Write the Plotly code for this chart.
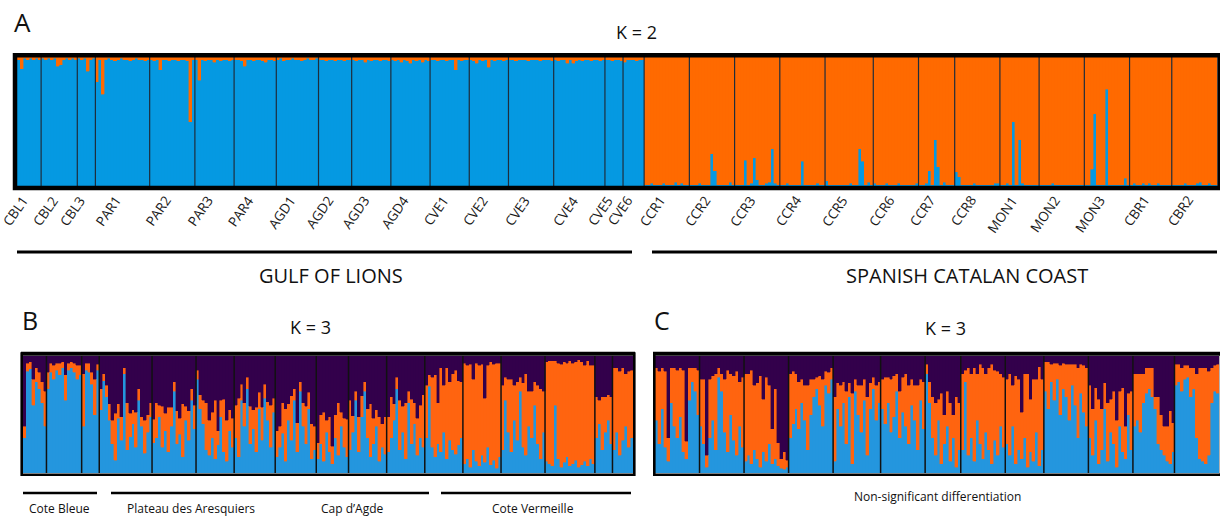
import plotly.graph_objects as go

# ---------------- data ----------------
gulf_pops = ["CBL1", "CBL2", "CBL3", "PAR1", "PAR2", "PAR3", "PAR4", "AGD1", "AGD2",
             "AGD3", "AGD4", "CVE1", "CVE2", "CVE3", "CVE4", "CVE5", "CVE6"]
spain_pops = ["CCR1", "CCR2", "CCR3", "CCR4", "CCR5", "CCR6", "CCR7", "CCR8",
              "MON1", "MON2", "MON3", "CBR1", "CBR2"]

# Panel A (K=2): membership (%) in the blue cluster, per individual, per population
A_gulf_blue = [
    [98, 91, 99, 98, 99, 98, 99, 98],
    [99, 98, 99, 98, 99, 93, 94, 98, 99, 98, 99, 98],
    [99, 98, 99, 89, 98, 99],
    [81, 98, 71, 98, 99, 98, 97, 98, 99, 98, 98, 97, 98, 99, 98, 98, 97, 98],
    [98, 97, 98, 90, 98, 98, 97, 98, 98, 97, 98, 98, 97, 50, 98],
    [98, 82, 98, 97, 98, 98, 96, 98, 97, 98, 98, 97, 98],
    [98, 98, 97, 93, 98, 98, 97, 98, 98, 97, 96, 98, 98, 97],
    [98, 99, 97, 98, 98, 99, 98, 98, 97, 98, 99, 98, 98, 99],
    [98, 98, 97, 98, 98, 97, 98, 98, 97, 98, 98],
    [98, 97, 98, 98, 96, 98, 97, 98, 98, 97, 98, 98, 97],
    [98, 97, 98, 96, 98, 97, 95, 98, 97, 98, 96, 98, 97],
    [98, 98, 97, 98, 98, 97, 98, 98, 90, 98, 97, 98, 98],
    [98, 97, 95, 98, 97, 98, 92, 98, 97, 98, 98, 97, 98],
    [98, 98, 97, 98, 98, 98, 97, 98, 98, 98, 97, 98, 98, 98, 97],
    [98, 97, 98, 98, 95, 98, 95, 97, 98, 97, 98, 98, 97, 98, 98, 97, 98],
    [98, 98, 97, 98, 98, 97],
    [96, 98, 98, 98, 97, 98, 98],
]
A_spain_blue = [
    [1, 1, 2, 1, 1, 1, 2, 1, 1, 1, 3, 1, 2, 1, 1],
    [1, 1, 1, 2, 1, 1, 1, 25, 12, 1, 1, 1, 1, 3, 1],
    [1, 1, 1, 20, 1, 2, 22, 5, 1, 1, 2, 3, 29, 2, 1],
    [1, 1, 2, 1, 1, 1, 1, 19, 1, 1, 1, 1, 2, 1, 1],
    [4, 1, 1, 1, 1, 1, 1, 1, 2, 1, 1, 29, 19, 1, 3, 1],
    [2, 1, 1, 1, 2, 1, 1, 1, 2, 1, 1, 1, 1, 1, 2],
    [1, 1, 2, 12, 1, 36, 15, 1, 3, 1, 1, 1],
    [11, 7, 1, 1, 1, 1, 2, 1, 1, 1, 1, 1, 1, 2, 2],
    [1, 1, 2, 1, 50, 1, 36, 2, 1, 1, 1, 1, 1],
    [1, 1, 1, 1, 2, 1, 1, 1, 1, 1, 1, 1, 1, 1, 1],
    [1, 1, 13, 56, 1, 1, 1, 75, 1, 1, 1, 1, 1, 6, 1],
    [1, 2, 1, 1, 2, 1, 2, 1, 1, 2, 1, 1, 1, 1],
    [1, 1, 1, 1, 2, 1, 1, 1, 2, 3, 1, 1, 2, 1, 1],
]

# Panel B (K=3, Gulf of Lions): blue and orange membership (%); purple = remainder
B_blue = [
    [30, 87, 89, 58, 78, 72, 60, 40],
    [72, 86, 80, 88, 84, 90, 62, 88, 90, 86, 80, 84],
    [40, 88, 86, 76, 50, 88],
    [54, 79, 65, 45, 25, 11, 47, 28, 85, 20, 31, 42, 22, 62, 40, 17, 35, 48],
    [26, 30, 48, 22, 36, 18, 40, 70, 25, 33, 14, 45, 28, 62, 38],
    [80, 55, 42, 20, 15, 30, 12, 24, 48, 18, 10, 36, 22],
    [30, 14, 62, 40, 72, 25, 38, 18, 55, 28, 64, 45, 22, 52],
    [14, 22, 34, 10, 45, 28, 62, 18, 70, 40, 25, 55, 12, 20],
    [12, 25, 10, 35, 18, 8, 30, 15, 40, 22, 14],
    [20, 35, 62, 18, 48, 70, 30, 14, 25, 40, 10, 22, 16],
    [18, 30, 45, 72, 20, 35, 12, 60, 25, 42, 15, 30, 22],
    [30, 74, 22, 14, 25, 18, 35, 12, 28, 20, 16, 24, 30],
    [8, 12, 5, 20, 10, 6, 15, 9, 22, 7, 11, 4, 14],
    [20, 62, 35, 18, 45, 28, 70, 22, 15, 40, 30, 58, 25, 12, 35],
    [10, 8, 6, 58, 12, 5, 9, 14, 6, 8, 11, 5, 7, 10, 6, 12, 8],
    [30, 42, 20, 35, 45, 25],
    [20, 35, 15, 28, 40, 22, 30],
]
B_orange = [
    [10, 7, 6, 22, 12, 14, 18, 30],
    [14, 8, 12, 6, 10, 5, 22, 6, 5, 8, 12, 8],
    [45, 6, 8, 10, 30, 5],
    [18, 6, 10, 14, 20, 40, 12, 20, 5, 40, 20, 12, 30, 10, 8, 28, 15, 12],
    [20, 30, 10, 35, 15, 38, 16, 8, 28, 14, 45, 12, 25, 10, 20],
    [8, 12, 20, 40, 30, 22, 50, 12, 14, 45, 35, 18, 25],
    [28, 50, 14, 20, 10, 32, 16, 38, 14, 28, 12, 16, 36, 12],
    [22, 18, 26, 45, 14, 38, 10, 25, 8, 20, 32, 14, 30, 20],
    [14, 25, 42, 10, 30, 15, 20, 45, 12, 25, 32],
    [42, 14, 8, 30, 18, 8, 25, 45, 22, 14, 38, 20, 32],
    [30, 35, 14, 10, 42, 22, 48, 10, 38, 18, 32, 28, 45],
    [45, 10, 60, 70, 35, 72, 40, 78, 50, 65, 72, 55, 48],
    [86, 80, 88, 60, 84, 86, 78, 55, 70, 88, 82, 90, 80],
    [55, 20, 45, 62, 30, 50, 12, 55, 70, 30, 40, 20, 50, 60, 35],
    [85, 88, 90, 38, 82, 88, 86, 80, 90, 86, 84, 92, 88, 82, 90, 80, 84],
    [35, 20, 45, 30, 22, 40],
    [70, 55, 72, 62, 45, 65, 58],
]

# Panel C (K=3, Spanish Catalan coast)
C_blue = [
    [45, 25, 55, 22, 10, 60, 40, 30, 48, 18, 12, 62, 78, 70, 50],
    [40, 25, 5, 30, 45, 20, 82, 70, 35, 18, 50, 28, 15, 40, 22],
    [10, 15, 8, 20, 12, 5, 18, 10, 25, 8, 12, 6, 4, 3, 5],
    [30, 42, 55, 38, 60, 45, 20, 50, 65, 72, 58, 40, 75, 68, 80],
    [10, 55, 40, 60, 25, 65, 8, 70, 50, 35, 62, 15, 55, 72, 45, 60],
    [55, 42, 60, 35, 48, 70, 30, 52, 40, 25, 58, 45, 20, 62, 38],
    [85, 60, 30, 15, 45, 8, 25, 40, 10, 30, 5, 20],
    [20, 78, 15, 30, 10, 45, 25, 12, 35, 20, 8, 28, 15, 40, 22],
    [25, 15, 40, 8, 20, 12, 30, 5, 18, 10, 35, 6, 20],
    [70, 55, 78, 62, 80, 50, 72, 65, 45, 75, 58, 30, 68, 52, 40],
    [30, 15, 45, 8, 20, 55, 10, 35, 25, 5, 40, 18, 12, 50, 20],
    [40, 45, 35, 60, 68, 72, 65, 55, 25, 20, 15, 10, 8, 18],
    [75, 78, 70, 80, 82, 65, 72, 30, 12, 10, 8, 15, 60, 70, 68],
]
C_orange = [
    [45, 62, 35, 65, 20, 30, 50, 58, 42, 70, 15, 28, 12, 20, 38],
    [40, 55, 10, 50, 38, 65, 8, 15, 45, 70, 35, 55, 72, 38, 60],
    [75, 70, 80, 55, 65, 78, 45, 72, 50, 30, 60, 20, 8, 15, 6],
    [55, 45, 30, 40, 20, 30, 55, 30, 15, 10, 25, 40, 12, 18, 10],
    [55, 22, 35, 18, 45, 12, 60, 10, 25, 40, 18, 50, 22, 10, 30, 18],
    [25, 40, 22, 45, 35, 15, 40, 30, 45, 50, 22, 30, 55, 18, 40],
    [8, 18, 35, 45, 18, 60, 25, 30, 50, 20, 60, 40],
    [65, 10, 75, 55, 80, 40, 68, 78, 50, 70, 85, 60, 72, 45, 60],
    [55, 70, 35, 75, 60, 40, 55, 80, 45, 70, 45, 85, 60],
    [25, 40, 15, 32, 14, 42, 22, 28, 48, 18, 35, 60, 25, 40, 50],
    [45, 40, 28, 55, 35, 22, 50, 28, 45, 40, 30, 55, 28, 18, 50],
    [45, 40, 50, 25, 22, 18, 25, 10, 40, 30, 25, 30, 45, 25],
    [18, 15, 20, 12, 10, 25, 18, 55, 78, 80, 82, 72, 30, 22, 25],
]

# ---------------- styling ----------------
W, H = 1220, 516
FONT = "Open Sans, Noto Sans, sans-serif"
A_BLUE, A_ORANGE = "#0599e2", "#ff6a00"
K_BLUE, K_ORANGE, K_PURPLE = "#2496de", "#ff6410", "#33004b"


def fx(x):
    return x / W


def fy(y):
    return 1 - y / H


def flat(groups):
    return [v for g in groups for v in g]


def bounds(groups):
    out, c = [], 0
    for g in groups:
        c += len(g)
        out.append(c)
    return out


fig = go.Figure()


def add_bar(x, y, color, xa, ya):
    fig.add_trace(go.Bar(x=x, y=y, width=1.0, xaxis=xa, yaxis=ya,
                         marker=dict(color=color, line=dict(width=0.4, color=color)),
                         showlegend=False, hoverinfo="skip"))


# Panel A
a_groups = A_gulf_blue + A_spain_blue
a_blue = flat(a_groups)
xa = list(range(len(a_blue)))
add_bar(xa, a_blue, A_BLUE, "x", "y")
add_bar(xa, [100 - v for v in a_blue], A_ORANGE, "x", "y")

# Panel B
b_b, b_o = flat(B_blue), flat(B_orange)
xb = list(range(len(b_b)))
add_bar(xb, b_b, K_BLUE, "x2", "y2")
add_bar(xb, b_o, K_ORANGE, "x2", "y2")
add_bar(xb, [max(0, 100 - p - q) for p, q in zip(b_b, b_o)], K_PURPLE, "x2", "y2")

# Panel C
c_b, c_o = flat(C_blue), flat(C_orange)
xc = list(range(len(c_b)))
add_bar(xc, c_b, K_BLUE, "x3", "y3")
add_bar(xc, c_o, K_ORANGE, "x3", "y3")
add_bar(xc, [max(0, 100 - p - q) for p, q in zip(c_b, c_o)], K_PURPLE, "x3", "y3")

# population centres for A labels
ends = bounds(a_groups)
starts = [0] + ends[:-1]
centers = [(s + e - 1) / 2 for s, e in zip(starts, ends)]

shapes = []
# population separators
for b in ends[:-1]:
    shapes.append(dict(type="line", xref="x", yref="y domain", x0=b - 0.5, x1=b - 0.5,
                       y0=0, y1=1, line=dict(color="#1e2d3c", width=1.2)))
for b in bounds(B_blue)[:-1]:
    shapes.append(dict(type="line", xref="x2", yref="y2 domain", x0=b - 0.5, x1=b - 0.5,
                       y0=0, y1=1, line=dict(color="#111111", width=1.5)))
for b in bounds(C_blue)[:-1]:
    shapes.append(dict(type="line", xref="x3", yref="y3 domain", x0=b - 0.5, x1=b - 0.5,
                       y0=0, y1=1, line=dict(color="#111111", width=1.5)))


def rect(x0, y0, x1, y1, w):
    shapes.append(dict(type="rect", xref="paper", yref="paper", x0=fx(x0), x1=fx(x1),
                       y0=fy(y0), y1=fy(y1), line=dict(color="black", width=w)))


def hline(x0, x1, y, w):
    shapes.append(dict(type="line", xref="paper", yref="paper", x0=fx(x0), x1=fx(x1),
                       y0=fy(y), y1=fy(y), line=dict(color="black", width=w)))


# frames
rect(15, 55.3, 1219.5, 188, 4.5)
rect(21.7, 353.5, 634.3, 474.7, 2.6)
hline(21, 635, 353.7, 4)
rect(654.3, 353.5, 1221, 474.7, 2.6)
hline(653, 1220, 353.7, 4)

# region lines
hline(17, 632, 252, 3)
hline(652, 1217, 252, 3)
hline(23, 97, 493, 2.5)
hline(111, 429, 493, 2.5)
hline(441, 631, 493, 2.5)

annotations = []


def text(s, x, y, size):
    annotations.append(dict(text=s, x=fx(x), y=fy(y), xref="paper", yref="paper",
                            xanchor="center", yanchor="middle", showarrow=False,
                            font=dict(family=FONT, size=size, color="#111111")))


# rotated population labels under panel A
for name, c in zip(gulf_pops + spain_pops, centers):
    annotations.append(dict(text=name, x=c, y=fy(191), xref="x", yref="paper",
                            xanchor="right", yanchor="top", xshift=4, textangle=-55,
                            showarrow=False, borderpad=0,
                            font=dict(family=FONT, size=13.5, color="#1a1a1a")))

text("A", 22, 22, 26)
text("K = 2", 636, 32, 18)
text("GULF OF LIONS", 331, 275, 20)
text("SPANISH CATALAN COAST", 967, 275, 20)
text("B", 30, 320, 25)
text("K = 3", 310, 327, 18)
text("C", 662, 320, 25)
text("K = 3", 945, 328, 18)
text("Cote Bleue", 59, 508, 12)
text("Plateau des Aresquiers", 191, 508, 12)
text("Cap d’Agde", 352, 508, 12)
text("Cote Vermeille", 533, 508, 12)
text("Non-significant differentiation", 937, 496, 12)

hidden = dict(visible=False, showgrid=False, zeroline=False, automargin=False)
fig.update_layout(
    width=W, height=H, autosize=False,
    margin=dict(l=0, r=0, t=0, b=0, pad=0, autoexpand=False),
    paper_bgcolor="white", plot_bgcolor="white",
    barmode="stack", bargap=0,
    shapes=shapes, annotations=annotations,
    xaxis=dict(domain=[fx(17), fx(1217)], range=[-0.5, len(a_blue) - 0.5], **hidden),
    yaxis=dict(domain=[fy(186), fy(57)], range=[0, 100], **hidden),
    xaxis2=dict(domain=[fx(23), fx(633)], range=[-0.5, len(b_b) - 0.5], **hidden),
    yaxis2=dict(domain=[fy(473), fy(356)], range=[0, 100], **hidden),
    xaxis3=dict(domain=[fx(655), fx(1219)], range=[-0.5, len(c_b) - 0.5], **hidden),
    yaxis3=dict(domain=[fy(473), fy(356)], range=[0, 100], **hidden),
)

# remove the browser's default 8px page margin so the figure fills the window
fig.write_html("out.html",
               config={"displayModeBar": False, "staticPlot": True},
               post_script="document.body.style.margin='0';document.body.style.overflow='hidden';")
